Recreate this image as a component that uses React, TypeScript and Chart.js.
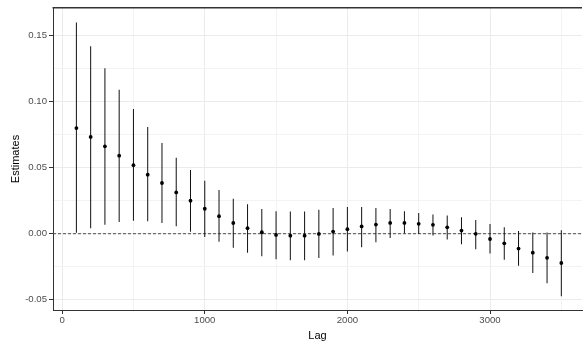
import React, { useEffect, useRef } from "react";
import { Chart, registerables } from "chart.js";

Chart.register(...registerables);

const lags = [
  100, 200, 300, 400, 500, 600, 700, 800, 900, 1000, 1100, 1200, 1300, 1400, 1500,
  1600, 1700, 1800, 1900, 2000, 2100, 2200, 2300, 2400, 2500, 2600, 2700, 2800, 2900, 3000,
  3100, 3200, 3300, 3400, 3500,
];
const estimates = [
  0.08, 0.0733, 0.0662, 0.0591, 0.0519, 0.0447, 0.0384, 0.0313, 0.025, 0.0189, 0.0133, 0.0081, 0.0042, 0.0011, -0.0009,
  -0.0015, -0.0015, -0.0002, 0.0016, 0.0034, 0.0055, 0.0069, 0.0082, 0.0082, 0.0075, 0.0067, 0.0048, 0.0024, -0.0001, -0.004,
  -0.0073, -0.0113, -0.0144, -0.0183, -0.0222,
];
const upper = [
  0.16, 0.142, 0.1253, 0.109, 0.0945, 0.0808, 0.0687, 0.0576, 0.0483, 0.0402, 0.0331, 0.0265, 0.0223, 0.0187, 0.017,
  0.0168, 0.0168, 0.0182, 0.0195, 0.0203, 0.0203, 0.0195, 0.0188, 0.017, 0.0156, 0.0145, 0.0138, 0.0124, 0.0104, 0.0073,
  0.0048, 0.002, 0.0009, 0.001, 0.0027,
];
const lower = [
  0.0008, 0.0041, 0.0068, 0.0089, 0.0099, 0.0094, 0.0081, 0.0056, 0.0015, -0.0025, -0.0061, -0.0106, -0.0144, -0.0171, -0.0194,
  -0.0202, -0.0202, -0.0184, -0.0165, -0.0135, -0.0102, -0.0064, -0.0032, 0.0, -0.0002, -0.0014, -0.0044, -0.008, -0.0118, -0.0149,
  -0.0197, -0.0242, -0.0298, -0.0376, -0.0474,
];

const xMajorTicks = [0, 1000, 2000, 3000];
const xMinorTicks = [500, 1500, 2500, 3500];
const xTickLabels = ["0", "1000", "2000", "3000"];
const yMajorTicks = [-0.05, 0, 0.05, 0.1, 0.15];
const yMinorTicks = [-0.025, 0.025, 0.075, 0.125];
const yTickLabels = ["-0.05", "0.00", "0.05", "0.10", "0.15"];

const X_MIN = -64;
const X_MAX = 3645;
const Y_MIN = -0.0578;
const Y_MAX = 0.171;

const FONT = "'Liberation Sans', Arial, sans-serif";

const near = (a: number, b: number) => Math.abs(a - b) < 1e-9;

export default function App() {
  const ref = useRef<HTMLCanvasElement | null>(null);

  useEffect(() => {
    if (!ref.current) return;

    const topBorder = {
      id: "topBorder",
      afterDraw(chart: any) {
        const { ctx, chartArea } = chart;
        ctx.save();
        ctx.strokeStyle = "#333333";
        ctx.lineWidth = 1.5;
        ctx.beginPath();
        ctx.moveTo(chartArea.left - 0.5, chartArea.top - 0.25);
        ctx.lineTo(chartArea.right, chartArea.top - 0.25);
        ctx.stroke();
        ctx.restore();
      },
    };

    const isMajorX = (v: number) => xMajorTicks.some((t) => near(t, v));
    const isMajorY = (v: number) => yMajorTicks.some((t) => near(t, v));

    const chart = new Chart(ref.current, {
      type: "bar",
      data: {
        datasets: [
          {
            type: "scatter",
            data: lags.map((x, i) => ({ x, y: estimates[i] })),
            pointRadius: 1.9,
            pointBackgroundColor: "#000000",
            pointBorderWidth: 0,
            order: 0,
          } as any,
          {
            type: "bar",
            data: lags.map((x, i) => ({ x, y: [lower[i], upper[i]] })),
            backgroundColor: "#111111",
            borderWidth: 0,
            barThickness: 1,
            inflateAmount: 0,
            order: 1,
          } as any,
          {
            type: "line",
            data: [
              { x: X_MIN, y: 0 },
              { x: X_MAX, y: 0 },
            ],
            borderColor: "#4d4d4d",
            borderWidth: 1,
            borderDash: [3, 2],
            pointRadius: 0,
            order: 2,
          } as any,
        ],
      },
      options: {
        responsive: false,
        animation: false,
        devicePixelRatio: 1,
        layout: { padding: { top: 8, left: 0, right: 0, bottom: 0 } },
        plugins: {
          legend: { display: false },
          tooltip: { enabled: false },
        },
        scales: {
          x: {
            type: "linear",
            min: X_MIN,
            max: X_MAX,
            offset: false,
            afterBuildTicks: (scale: any) => {
              scale.ticks = [...xMajorTicks, ...xMinorTicks]
                .sort((a, b) => a - b)
                .map((v) => ({ value: v }));
            },
            afterFit: (scale: any) => {
              scale.height = 37;
            },
            ticks: {
              autoSkip: false,
              maxRotation: 0,
              padding: 1,
              color: "#4d4d4d",
              font: { family: FONT, size: 9.6 },
              callback: (v: any) => {
                const i = xMajorTicks.findIndex((t) => near(t, Number(v)));
                return i >= 0 ? xTickLabels[i] : "";
              },
            },
            grid: {
              offset: false,
              color: (ctx: any) => (isMajorX(ctx.tick?.value) ? "#ebebeb" : "#f3f3f3"),
              tickColor: (ctx: any) => (isMajorX(ctx.tick?.value) ? "#333333" : "rgba(0,0,0,0)"),
              tickLength: 4,
              drawOnChartArea: true,
            },
            border: { display: true, color: "#333333", width: 1 },
            title: {
              display: true,
              text: "Lag",
              color: "#000000",
              font: { family: FONT, size: 11 },
              padding: { top: 0, bottom: 4 },
            },
          },
          y: {
            type: "linear",
            min: Y_MIN,
            max: Y_MAX,
            afterBuildTicks: (scale: any) => {
              scale.ticks = [...yMajorTicks, ...yMinorTicks]
                .sort((a, b) => a - b)
                .map((v) => ({ value: v }));
            },
            afterFit: (scale: any) => {
              scale.width = 53;
            },
            ticks: {
              autoSkip: false,
              padding: 2,
              color: "#4d4d4d",
              font: { family: FONT, size: 9.6 },
              callback: (v: any) => {
                const i = yMajorTicks.findIndex((t) => near(t, Number(v)));
                return i >= 0 ? yTickLabels[i] : "";
              },
            },
            grid: {
              offset: false,
              color: (ctx: any) => (isMajorY(ctx.tick?.value) ? "#ebebeb" : "#f3f3f3"),
              tickColor: (ctx: any) => (isMajorY(ctx.tick?.value) ? "#333333" : "rgba(0,0,0,0)"),
              tickLength: 4,
            },
            border: { display: true, color: "#333333", width: 1 },
            title: {
              display: true,
              text: "Estimates",
              color: "#000000",
              font: { family: FONT, size: 11 },
              padding: { top: 9, bottom: 0 },
            },
          },
        },
      } as any,
      plugins: [topBorder],
    });

    return () => chart.destroy();
  }, []);

  return (
    <div style={{ position: "absolute", left: 0, top: 0, width: 586, height: 347, background: "#ffffff" }}>
      <canvas ref={ref} width={586} height={347} style={{ display: "block", width: 586, height: 347 }} />
    </div>
  );
}
